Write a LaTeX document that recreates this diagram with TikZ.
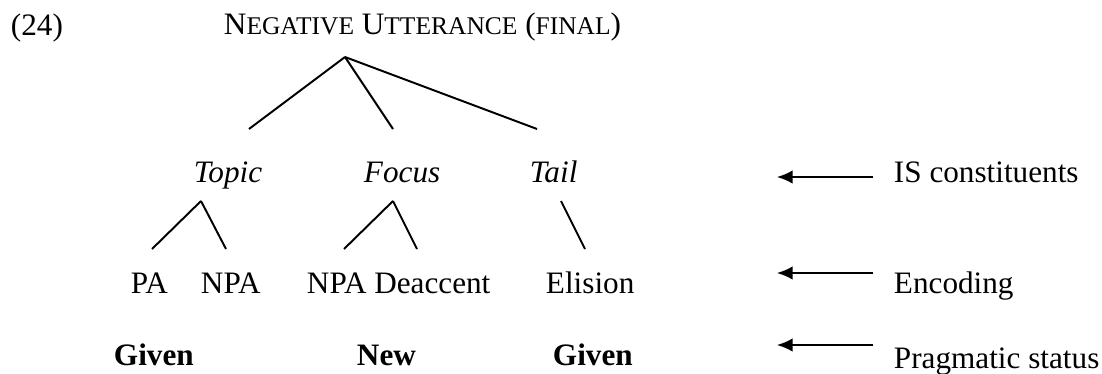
\documentclass[tikz,border=0pt]{standalone}
\usepackage{fontspec}
\setmainfont{Liberation Serif}
\usetikzlibrary{arrows.meta}
\newcommand{\fakesc}[1]{{\fontsize{9.8}{10}\selectfont #1}}

\begin{document}
\begin{tikzpicture}[x=0.3846pt,y=-0.3846pt,line width=0.75pt,
    lbl/.style={anchor=base west,inner sep=0pt,font=\fontsize{12}{14}\selectfont},
    pointer/.style={-{Latex[length=6pt,width=5.2pt]}}]
    \useasboundingbox (0,0) rectangle (1102,373);
    % labels
    \node[lbl] (ex) at (10,35) {(24)};
    \node[lbl] (utt) at (223,34) {N\fakesc{EGATIVE} U\fakesc{TTERANCE} (\fakesc{FINAL})};
    \node[lbl] (topic) at (193,182) {\textit{Topic}};
    \node[lbl] (focus) at (363,182) {\textit{Focus}};
    \node[lbl] (tail) at (529,182) {\textit{Tail}};
    \node[lbl] (pa) at (130,293) {PA};
    \node[lbl] (npa) at (200,293) {NPA};
    \node[lbl] (deacc) at (306,293) {NPA Deaccent};
    \node[lbl] (elision) at (545,293) {Elision};
    \node[lbl] (given) at (113,365) {\textbf{Given}};
    \node[lbl] (new) at (356,365) {\textbf{New}};
    \node[lbl] (given2) at (552,365) {\textbf{Given}};
    \node[lbl] (is) at (893,182) {IS constituents};
    \node[lbl] (enc) at (893,293) {Encoding};
    \node[lbl] (prag) at (893,368) {Pragmatic status};
    % branch points
    \coordinate (utt-tip) at (345,57);
    \coordinate (topic-end) at (249,129);
    \coordinate (focus-end) at (393,129);
    \coordinate (tail-end) at (537,129);
    \coordinate (topic-tip) at (201,201);
    \coordinate (pa-end) at (152,249);
    \coordinate (npa-end) at (226,249);
    \coordinate (focus-tip) at (393,201);
    \coordinate (deacc-l) at (344,249);
    \coordinate (deacc-r) at (417,249);
    \coordinate (tail-tip) at (561,201);
    \coordinate (elision-end) at (585,249);
    \draw (utt-tip) -- (topic-end);
    \draw (utt-tip) -- (focus-end);
    \draw (utt-tip) -- (tail-end);
    \draw (topic-tip) -- (pa-end);
    \draw (topic-tip) -- (npa-end);
    \draw (focus-tip) -- (deacc-l);
    \draw (focus-tip) -- (deacc-r);
    \draw (tail-tip) -- (elision-end);
    % level arrows
    \coordinate (is-from) at (873,177);
    \coordinate (is-to) at (777,177);
    \coordinate (enc-from) at (873,273);
    \coordinate (enc-to) at (777,273);
    \coordinate (prag-from) at (873,345);
    \coordinate (prag-to) at (777,345);
    \draw[pointer] (is-from) -- (is-to);
    \draw[pointer] (enc-from) -- (enc-to);
    \draw[pointer] (prag-from) -- (prag-to);
\end{tikzpicture}
\end{document}
